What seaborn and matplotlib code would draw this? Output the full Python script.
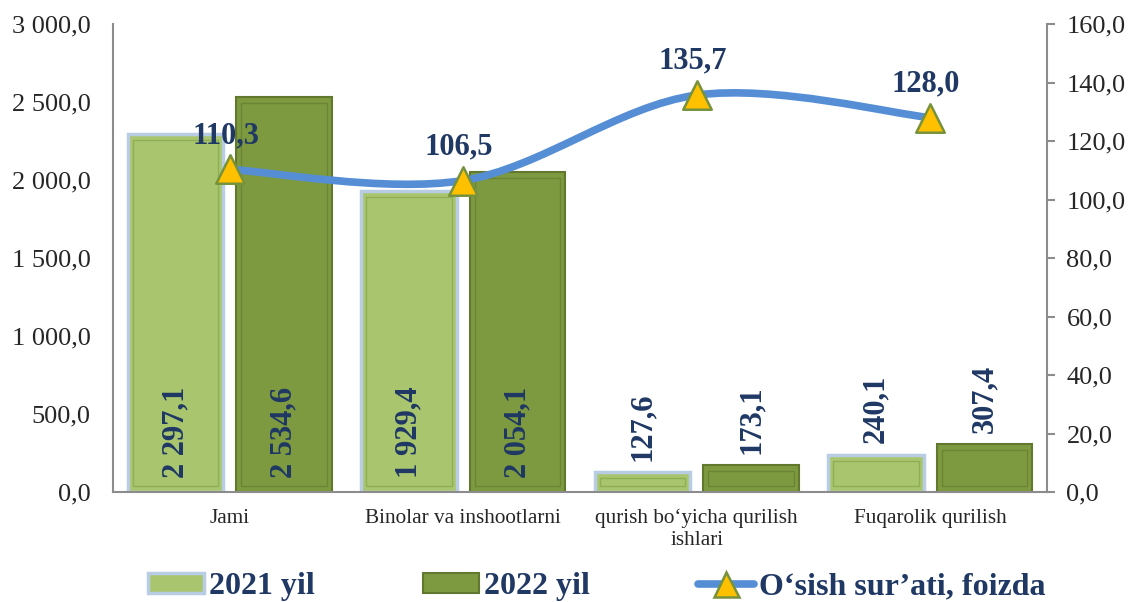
import numpy as np
import pandas as pd
import matplotlib.pyplot as plt
import seaborn as sns
from matplotlib.path import Path
from matplotlib.patches import PathPatch, Patch, Rectangle
from matplotlib.lines import Line2D
from matplotlib.ticker import FuncFormatter

categories = ['Jami', 'Binolar va inshootlarni', 'qurish bo\u2018yicha qurilish\nishlari', 'Fuqarolik qurilish']
years = ['2021 yil', '2022 yil']
values_2021 = [2297.1, 1929.4, 127.6, 240.1]
values_2022 = [2534.6, 2054.1, 173.1, 307.4]
growth = [110.3, 106.5, 135.7, 128.0]
growth_label = 'O\u2018sish sur\u2019ati, foizda'

c21, c22 = '#A9C66E', '#7E9A40'
edge21, edge22 = '#B8CCE4', '#62782F'
bevel21, bevel22 = '#8FAE55', '#6A8534'
navy = '#1F3864'
line_col = '#558ED5'
spine_col = '#8C8C8C'


def fmt(v, pos=None):
    return f'{v:,.1f}'.replace(',', ' ').replace('.', ',')


df = pd.DataFrame({
    'category': categories * 2,
    'year': [years[0]] * 4 + [years[1]] * 4,
    'value': values_2021 + values_2022,
})

sns.set_style('white')
plt.rcParams['font.family'] = ['Liberation Serif', 'DejaVu Serif']

fig = plt.figure(figsize=(11.33, 6.02), dpi=100)
ax = fig.add_axes([0.0997, 0.1827, 0.8244, 0.7774])

sns.barplot(data=df, x='category', y='value', hue='year', order=categories,
            hue_order=years, palette=[c21, c22], saturation=1,
            width=0.93, gap=0.12, legend=False, ax=ax)

# bar outlines plus a thin inner frame for the bevelled look
for cont, ec, lw, bc in zip(ax.containers, [edge21, edge22], [2.5, 1.5], [bevel21, bevel22]):
    for p in cont:
        p.set_edgecolor(ec)
        p.set_linewidth(lw)
        p.set_zorder(2)
        dx, dy = 0.022, 40
        h = p.get_height()
        if h > 2 * dy:
            ax.add_patch(Rectangle((p.get_x() + dx, dy), p.get_width() - 2 * dx, h - 2 * dy,
                                   facecolor='none', edgecolor=bc, linewidth=1.0, zorder=2.5))

# value labels, rotated
for cont in ax.containers:
    for p in cont:
        v = p.get_height()
        xc = p.get_x() + p.get_width() / 2
        if v > 1000:
            ax.annotate(fmt(v), (xc, 0), xytext=(0, 10), textcoords='offset points',
                        rotation=90, ha='center', va='bottom', fontsize=22,
                        fontweight='bold', color=navy, zorder=5)
        else:
            ax.annotate(fmt(v), (xc, v), xytext=(0, 8), textcoords='offset points',
                        rotation=90, ha='center', va='bottom', fontsize=22,
                        fontweight='bold', color=navy, zorder=5)

ax.set_xlim(-0.5, 3.5)
ax.set_ylim(0, 3000)
ax.set_yticks(np.arange(0, 3001, 500))
ax.yaxis.set_major_formatter(FuncFormatter(fmt))
ax.set_xlabel('')
ax.set_ylabel('')
ax.tick_params(axis='y', length=0, pad=16, labelsize=19)
ax.tick_params(axis='x', length=0, pad=12, labelsize=15.3)
for s in ['top', 'right']:
    ax.spines[s].set_visible(False)
for s in ['left', 'bottom']:
    ax.spines[s].set_color(spine_col)
    ax.spines[s].set_linewidth(1.5)

# secondary axis with smoothed growth line
ax2 = ax.twinx()
ax2.set_ylim(0, 160)
ax2.set_yticks(np.arange(0, 161, 20))
ax2.yaxis.set_major_formatter(FuncFormatter(fmt))
ax2.tick_params(axis='y', length=6, width=1.5, color=spine_col, pad=8, labelsize=19)
for s in ['top', 'left', 'bottom']:
    ax2.spines[s].set_visible(False)
ax2.spines['right'].set_color(spine_col)
ax2.spines['right'].set_linewidth(1.5)

xs = np.arange(len(categories), dtype=float)
pts = np.column_stack([xs, growth])
ext = np.vstack([pts[0], pts, pts[-1]])
verts = [tuple(pts[0])]
codes = [Path.MOVETO]
for i in range(len(pts) - 1):
    p0, p1, p2, p3 = ext[i], ext[i + 1], ext[i + 2], ext[i + 3]
    verts += [tuple(p1 + (p2 - p0) / 6), tuple(p2 - (p3 - p1) / 6), tuple(p2)]
    codes += [Path.CURVE4] * 3
ax2.add_patch(PathPatch(Path(verts, codes), facecolor='none', edgecolor=line_col,
                        linewidth=5.5, capstyle='round', zorder=3))

sns.scatterplot(x=xs, y=growth, marker='^', s=420, color='#FFC000',
                edgecolor='#76923C', linewidth=1.8, zorder=4, ax=ax2, legend=False)

for x, g in zip(xs, growth):
    ax2.annotate(fmt(g), (x, g), xytext=(-3, 14), textcoords='offset points',
                 ha='center', va='bottom', fontsize=22, fontweight='bold', color=navy)

handles = [
    Patch(facecolor=c21, edgecolor=edge21, linewidth=2.5),
    Patch(facecolor=c22, edgecolor=edge22, linewidth=1.5),
    Line2D([0], [0], color=line_col, linewidth=5.5, marker='^', markersize=18,
           markerfacecolor='#FFC000', markeredgecolor='#76923C', markeredgewidth=1.8),
]
leg = fig.legend(handles, years + [growth_label], loc='center', bbox_to_anchor=(0.5265, 0.025),
                 ncol=3, frameon=False, handlelength=1.75, handleheight=0.56,
                 handletextpad=0.15, columnspacing=3.4,
                 prop={'size': 23, 'weight': 'bold'})
for t in leg.get_texts():
    t.set_color(navy)

fig.savefig('out.png', dpi=100, facecolor='white')
